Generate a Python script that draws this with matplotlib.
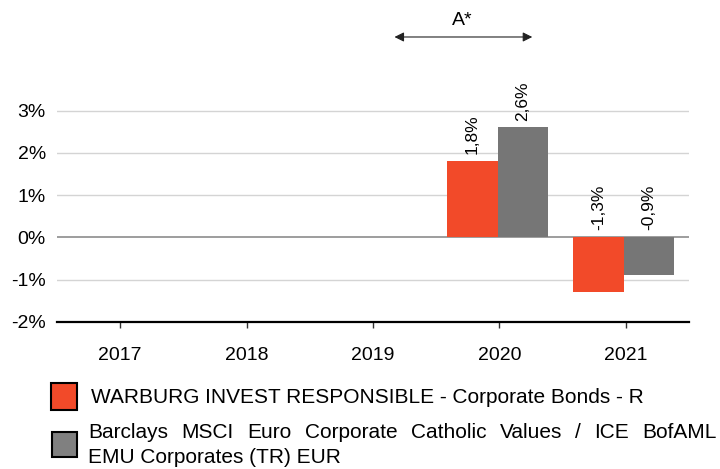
import numpy as np
import matplotlib.pyplot as plt
from matplotlib.patches import Rectangle

plt.rcParams['font.family'] = ['Liberation Sans', 'DejaVu Sans']

years = ['2017', '2018', '2019', '2020', '2021']
fund = [np.nan, np.nan, np.nan, 1.8, -1.3]
bench = [np.nan, np.nan, np.nan, 2.6, -0.9]
fund_labels = ['', '', '', '1,8%', '-1,3%']
bench_labels = ['', '', '', '2,6%', '-0,9%']
yticks = [-2, -1, 0, 1, 2, 3]
ytick_labels = ['-2%', '-1%', '0%', '1%', '2%', '3%']
fund_name = 'WARBURG INVEST RESPONSIBLE - Corporate Bonds - R'
bench_line1 = 'Barclays MSCI Euro Corporate Catholic Values / ICE BofAML'
bench_line2 = 'EMU Corporates (TR) EUR'

red = '#F24A29'
grey = '#767676'

fig = plt.figure(figsize=(7.2, 4.69), dpi=100)
ax = fig.add_axes([57 / 720, 1 - 322 / 469, 632 / 720, 296 / 469])

for s in ['top', 'right', 'left']:
    ax.spines[s].set_visible(False)
ax.spines['bottom'].set_position(('data', -2))
ax.spines['bottom'].set_linewidth(1.6)
ax.spines['bottom'].set_color('black')

x = np.arange(len(years))
w = 0.4
ax.bar(x - w / 2 - 0.015, fund, w, color=red, zorder=3)
ax.bar(x + w / 2 - 0.015, bench, w, color=grey, zorder=3)

# value labels, rotated, above the bar (or above zero for negatives)
for i in range(len(years)):
    for val, lab, off in ((fund[i], fund_labels[i], -w / 2), (bench[i], bench_labels[i], w / 2)):
        if not lab:
            continue
        base = max(val, 0)
        ax.annotate(lab, (x[i] + off - 0.015, base), xytext=(0, 5), textcoords='offset points',
                    rotation=90, ha='center', va='bottom', fontsize=12.5)

ax.set_xlim(-0.5, 4.5)
ax.set_ylim(-2, 5)
ax.set_yticks(yticks)
ax.set_yticklabels(ytick_labels)
ax.set_xticks(x)
ax.set_xticklabels(years)
ax.tick_params(axis='y', length=0, pad=8, labelsize=14)
ax.tick_params(axis='x', length=4, width=1, pad=14, color='#333333', labelsize=14)

for v in yticks:
    if v == 0:
        ax.axhline(v, color='#8c8c8c', lw=1.2, zorder=2)
    elif v > -2:
        ax.axhline(v, color='#d4d4d4', lw=1, zorder=1)

# period arrow
ax.annotate('', xy=(2.17, 4.74), xytext=(3.26, 4.74),
            arrowprops=dict(arrowstyle='<|-|>', color='#222222', lw=0.8,
                            mutation_scale=14, shrinkA=0, shrinkB=0),
            annotation_clip=False)
ax.text(2.71, 4.93, 'A*', ha='center', va='bottom', fontsize=14)

# legend
fig.patches.append(Rectangle((51 / 720, 1 - 410 / 469), 26 / 720, 27 / 469,
                             transform=fig.transFigure, facecolor=red, edgecolor='black', lw=1.5))
fig.patches.append(Rectangle((52 / 720, 1 - 457 / 469), 25 / 720, 25 / 469,
                             transform=fig.transFigure, facecolor='#808080', edgecolor='black', lw=1.5))
fig.text(91 / 720, 1 - 397 / 469, fund_name, va='center', ha='left', fontsize=15)

# justified first line of the benchmark name (88px .. 717px)
renderer = fig.canvas.get_renderer()
words = [fig.text(0, 1 - 432 / 469, wd, va='center', ha='left', fontsize=15)
         for wd in bench_line1.split()]
widths = [t.get_window_extent(renderer).width for t in words]
gap = (717 - 88 - sum(widths)) / (len(words) - 1)
pos = 88
for t, wd in zip(words, widths):
    t.set_x(pos / 720)
    pos += wd + gap
fig.text(88 / 720, 1 - 457 / 469, bench_line2, va='center', ha='left', fontsize=15)

fig.savefig('out.png', dpi=100)
